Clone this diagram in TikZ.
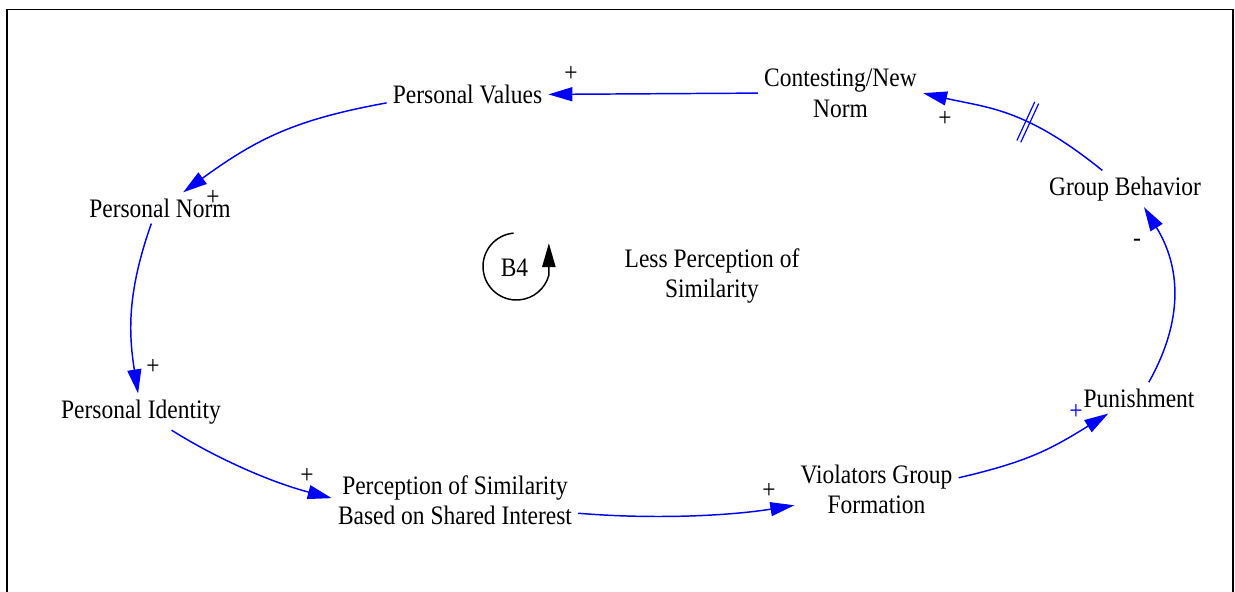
\documentclass[tikz,border=0pt]{standalone}
\usepackage{fontspec}
\setmainfont{Liberation Serif}[FakeStretch=0.88]
\usetikzlibrary{arrows.meta,decorations.markings}

\begin{document}
\begin{tikzpicture}[x=0.75pt,y=0.75pt,
  font=\fontsize{20}{23}\selectfont,
  var/.style={align=center, inner sep=4.5pt},
  sign/.style={inner sep=0pt},
  link/.style={draw=blue, line width=1.1pt, -{Triangle[length=18pt,width=10.5pt]}},
  delaymark/.style={postaction={decorate,decoration={markings,
    mark=at position #1 with {\draw[blue,line width=0.9pt,-]
      (-1.6pt,-16pt) -- (-1.6pt,16pt) (1.6pt,-16pt) -- (1.6pt,16pt);}}}}]

\useasboundingbox (0,0) rectangle (1235,-592);
% frame, open at the bottom
\draw[line width=1.4pt] (7,-592) -- (7,-9.5) -- (1233,-9.5) -- (1233,-592);

% variables
\node[var] (pv) at (467.5,-94.4) {Personal Values};
\node[var] (cn) at (840.5,-93.1) {Contesting/New\\Norm};
\node[var] (gb) at (1125,-188.8) {Group Behavior};
\node[var] (pn) at (160,-207.9) {Personal Norm};
\node[var] (pi) at (141,-411.8) {Personal Identity};
\node[var] (ps) at (455,-500.3) {Perception of Similarity\\Based on Shared Interest};
\node[var] (vg) at (876.5,-489.3) {Violators Group\\Formation};
\node[var] (pu) at (1139,-397.9) {Punishment};
\node[var] (lp) at (712,-276) {Less Perception of\\Similarity};

% loop marker
\node[inner sep=0pt] (b4) at (514.5,-268) {B4};
\coordinate (loopc) at (516.5,-266.5);
\draw[line width=1.1pt, -{Triangle[length=18pt,width=10pt]}]
  (loopc) ++(95:33.5) arc[start angle=95, end angle=345, radius=33.5] -- ++(0,32);

% causal links
\draw[link] (cn.west) -- (pv.east);
\draw[link] (pv.186) .. controls (296.4,-119.3) and (257.9,-137.9) .. (pn.34);
\draw[link] (pn.241) .. controls (128,-290) and (128,-330) .. (pi.99);
\draw[link] (pi.329) .. controls (217,-458.8) and (271.4,-482.4) .. (ps.179);
\draw[link] (ps.354) .. controls (660,-520) and (735,-515) .. (vg.191);
\draw[link] (vg.8) .. controls (1027.3,-461.9) and (1050.5,-449.4) .. (pu.207);
\draw[link] (pu.58) .. controls (1184.3,-319.1) and (1180.4,-266.5) .. (gb.316);
\draw[link, delaymark=0.45] (gb.141) .. controls (1025,-108) and (988,-108) .. (cn.east);

% link polarities
\node[sign] (s1) at (571,-74) {+};
\node[sign] (s2) at (213,-198) {+};
\node[sign] (s3) at (153,-367) {+};
\node[sign] (s4) at (307,-476) {+};
\node[sign] (s5) at (769,-491) {+};
\node[sign, text=blue] (s6) at (1076,-412) {+};
\node[sign] (s7) at (1137,-243) {-};
\node[sign] (s8) at (945,-119) {+};
\end{tikzpicture}
\end{document}
